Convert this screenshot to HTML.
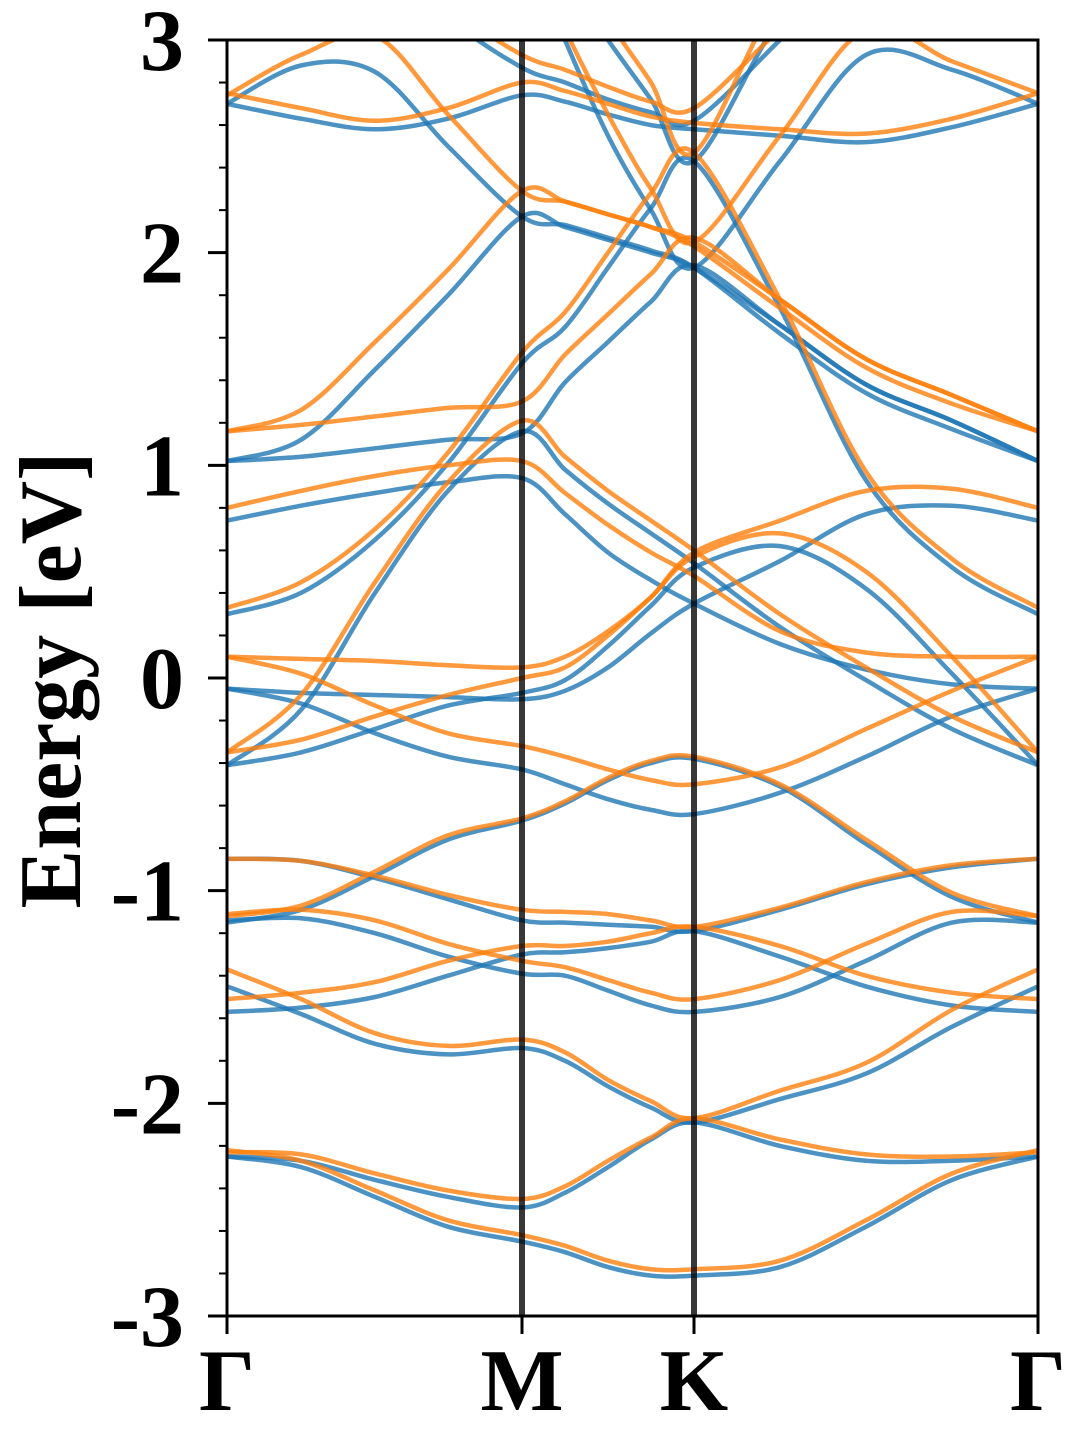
<!DOCTYPE html>
<html><head><meta charset="utf-8"><style>
html,body{margin:0;padding:0;background:#fff;}
svg{display:block;}
text{font-family:"Liberation Serif",serif;font-weight:bold;fill:#000;}
</style></head><body>
<svg id="chart" width="1080" height="1440" viewBox="0 0 1080 1440" xmlns="http://www.w3.org/2000/svg">
<defs><clipPath id="plotclip"><rect x="227" y="40" width="811" height="1276"/></clipPath></defs>
<g id="bands" clip-path="url(#plotclip)"></g>
<g id="axes"></g>
</svg>
<script>
// k-path grid (path length units): Γ=0, M=295, K=467, Γ=811
const kGrid = [0,74,148,221,295,338,381,424,467,553,639,725,811];
const kTicks = [0,295,467,811];
const kLabels = ["Γ","M","K","Γ"];
const eTicks = [-3,-2,-1,0,1,2,3];
const eTickLabels = ["-3","-2","-1","0","1","2","3"];

// spin-up bands (blue), energies in eV at kGrid
const upA = [-2.25,-2.30,-2.44,-2.58,-2.65,-2.70,-2.77,-2.81,-2.81,-2.77,-2.58,-2.36,-2.25];
const upB = [-2.25,-2.27,-2.36,-2.44,-2.49,-2.42,-2.30,-2.17,-2.09,-2.20,-2.27,-2.27,-2.25];
const upC = [-1.45,-1.58,-1.72,-1.77,-1.74,-1.80,-1.92,-2.02,-2.09,-1.98,-1.86,-1.64,-1.45];
const upD = [-1.57,-1.55,-1.50,-1.40,-1.30,-1.29,-1.27,-1.24,-1.19,-1.31,-1.45,-1.54,-1.57];
const upE = [-1.14,-1.13,-1.20,-1.31,-1.39,-1.40,-1.47,-1.54,-1.57,-1.50,-1.33,-1.15,-1.15];
const upF = [-1.15,-1.09,-0.93,-0.76,-0.67,-0.59,-0.48,-0.40,-0.38,-0.51,-0.78,-1.03,-1.15];
const upG = [-0.85,-0.86,-0.94,-1.04,-1.14,-1.15,-1.16,-1.17,-1.19,-1.09,-0.97,-0.89,-0.85];
const upH = [-0.05,-0.12,-0.26,-0.37,-0.43,-0.50,-0.57,-0.62,-0.64,-0.54,-0.37,-0.18,-0.05];
const upI = [-0.41,-0.35,-0.24,-0.13,-0.07,-0.01,0.15,0.34,0.52,0.62,0.42,0.02,-0.41];
const upJ = [-0.05,-0.07,-0.08,-0.09,-0.10,-0.06,0.05,0.21,0.35,0.55,0.77,0.81,0.74];
const upK = [0.74,0.81,0.87,0.92,0.94,0.77,0.59,0.46,0.35,0.16,0.04,-0.03,-0.05];
const upL = [-0.41,-0.15,0.40,0.88,1.16,0.98,0.82,0.68,0.54,0.24,-0.01,-0.24,-0.41];
const upN = [0.30,0.40,0.65,1.01,1.48,1.65,1.93,2.21,2.43,1.74,0.93,0.52,0.30];
const upO = [1.02,1.12,1.45,1.80,2.17,2.12,2.06,2.00,1.93,1.66,1.38,1.21,1.02];
const upP = [1.02,1.04,1.08,1.12,1.15,1.39,1.58,1.77,1.94,1.66,1.38,1.21,1.02];
const upQ = [2.70,2.88,2.85,2.50,2.17,2.13,2.07,2.01,1.93,1.62,1.34,1.17,1.02];
const upR = [2.70,2.63,2.58,2.63,2.74,2.71,2.65,2.60,2.58,2.55,2.52,2.59,2.70];
const upS = [3.4,3.4,3.4,3.1,2.87,2.80,2.72,2.66,2.62,3.0,3.4,3.4,3.4];
const upV = [3.5,3.5,3.5,3.5,3.5,3.0,2.55,2.20,1.93,2.43,2.93,2.86,2.70];
const upW = [3.5,3.5,3.5,3.5,3.5,3.3,3.0,2.72,2.43,3.1,3.5,3.5,3.5];

// spin-down bands (orange)
const dnA = [-2.22,-2.27,-2.41,-2.55,-2.62,-2.67,-2.74,-2.78,-2.78,-2.74,-2.55,-2.33,-2.22];
const dnB = [-2.23,-2.24,-2.33,-2.41,-2.45,-2.39,-2.27,-2.16,-2.07,-2.17,-2.24,-2.25,-2.23];
const dnC = [-1.37,-1.51,-1.67,-1.73,-1.70,-1.76,-1.89,-1.99,-2.07,-1.94,-1.81,-1.56,-1.37];
const dnD = [-1.51,-1.48,-1.43,-1.33,-1.26,-1.26,-1.24,-1.20,-1.17,-1.26,-1.40,-1.48,-1.51];
const dnE = [-1.11,-1.09,-1.14,-1.25,-1.33,-1.36,-1.42,-1.48,-1.51,-1.42,-1.25,-1.10,-1.12];
const dnF = [-1.12,-1.07,-0.91,-0.74,-0.66,-0.58,-0.47,-0.39,-0.37,-0.50,-0.76,-1.01,-1.12];
const dnG = [-0.85,-0.86,-0.93,-1.02,-1.09,-1.10,-1.11,-1.14,-1.17,-1.08,-0.96,-0.88,-0.85];
const dnH = [0.10,0.02,-0.13,-0.26,-0.32,-0.37,-0.43,-0.48,-0.50,-0.42,-0.24,-0.06,0.10];
const dnI = [-0.35,-0.29,-0.18,-0.08,0.00,0.05,0.20,0.38,0.57,0.68,0.50,0.10,-0.35];
const dnJ = [0.10,0.09,0.08,0.06,0.05,0.10,0.22,0.38,0.59,0.74,0.88,0.89,0.80];
const dnK = [0.80,0.88,0.95,1.00,1.02,0.87,0.72,0.59,0.48,0.22,0.12,0.10,0.10];
const dnL = [-0.35,-0.08,0.45,0.92,1.21,1.04,0.88,0.74,0.60,0.30,0.05,-0.18,-0.35];
const dnN = [0.33,0.45,0.70,1.06,1.53,1.72,2.00,2.28,2.47,1.78,0.97,0.56,0.33];
const dnO = [1.16,1.26,1.58,1.92,2.29,2.24,2.18,2.12,2.05,1.78,1.50,1.33,1.16];
const dnP = [1.16,1.19,1.23,1.27,1.30,1.52,1.71,1.90,2.07,1.78,1.50,1.33,1.16];
const dnQ = [2.74,2.93,3.02,2.65,2.29,2.24,2.18,2.12,2.03,1.74,1.46,1.29,1.16];
const dnR = [2.75,2.68,2.62,2.68,2.80,2.76,2.70,2.64,2.61,2.58,2.56,2.63,2.75];
const dnS = [3.4,3.4,3.4,3.15,2.93,2.86,2.78,2.71,2.68,3.05,3.4,3.4,3.4];
const dnV = [3.5,3.5,3.5,3.5,3.5,3.05,2.65,2.30,2.05,2.55,3.05,2.90,2.75];
const dnW = [3.5,3.5,3.5,3.5,3.5,3.5,3.1,2.80,2.47,3.2,3.5,3.5,3.5];

const upBands = [upA,upB,upC,upD,upE,upF,upG,upH,upI,upJ,upK,upL,upN,upO,upP,upQ,upR,upS,upV,upW];
const dnBands = [dnA,dnB,dnC,dnD,dnE,dnF,dnG,dnH,dnI,dnJ,dnK,dnL,dnN,dnO,dnP,dnQ,dnR,dnS,dnV,dnW];

const X0=227,X1=1038,Y0=40,Y1=1316,EMIN=-3,EMAX=3;
const kMax = kTicks[kTicks.length-1];
function xScale(k){return X0+(k/kMax)*(X1-X0);}
function yScale(e){return Y1-(e-EMIN)/(EMAX-EMIN)*(Y1-Y0);}
const NS="http://www.w3.org/2000/svg";

function pathFor(vals){
  const p = kGrid.map((k,i)=>[xScale(k),yScale(vals[i])]);
  let d="M"+p[0][0].toFixed(1)+","+p[0][1].toFixed(1);
  for(let i=0;i<p.length-1;i++){
    const p0=p[i-1]||p[i], p1=p[i], p2=p[i+1], p3=p[i+2]||p[i+1];
    const c1x=p1[0]+(p2[0]-p0[0])/6, c1y=p1[1]+(p2[1]-p0[1])/6;
    const c2x=p2[0]-(p3[0]-p1[0])/6, c2y=p2[1]-(p3[1]-p1[1])/6;
    d+=" C"+c1x.toFixed(1)+","+c1y.toFixed(1)+" "+c2x.toFixed(1)+","+c2y.toFixed(1)+" "+p2[0].toFixed(1)+","+p2[1].toFixed(1);
  }
  return d;
}
const gB=document.getElementById('bands');
upBands.forEach((b,i)=>{
  const el=document.createElementNS(NS,'path');
  el.setAttribute('d',pathFor(b));
  el.setAttribute('fill','none');el.setAttribute('stroke','#1f77b4');
  el.setAttribute('stroke-opacity','0.8');el.setAttribute('stroke-width','4.5');
  
  
  gB.appendChild(el);
});
dnBands.forEach((b,i)=>{
  const el=document.createElementNS(NS,'path');
  el.setAttribute('d',pathFor(b));
  el.setAttribute('fill','none');el.setAttribute('stroke','#ff7f0e');
  el.setAttribute('stroke-opacity','0.8');el.setAttribute('stroke-width','4.5');
  
  
  gB.appendChild(el);
});
const gA=document.getElementById('axes');
kTicks.slice(1,-1).forEach(k=>{
  const l=document.createElementNS(NS,'line');
  l.setAttribute('x1',xScale(k));l.setAttribute('x2',xScale(k));
  l.setAttribute('y1',Y0);l.setAttribute('y2',Y1);
  l.setAttribute('stroke','#000');l.setAttribute('stroke-opacity','0.78');l.setAttribute('stroke-width','6');
  
  
  gA.appendChild(l);
});
const fr=document.createElementNS(NS,'rect');
fr.setAttribute('x',X0);fr.setAttribute('y',Y0);fr.setAttribute('width',X1-X0);fr.setAttribute('height',Y1-Y0);
fr.setAttribute('fill','none');fr.setAttribute('stroke','#000');fr.setAttribute('stroke-width','3');


gA.appendChild(fr);
for(let e=-2.8;e<3;e+=0.2){
  if(Math.abs(e-Math.round(e))<0.01) continue;
  const t=document.createElementNS(NS,'line');
  t.setAttribute('x1',X0-8);t.setAttribute('x2',X0);t.setAttribute('y1',yScale(e));t.setAttribute('y2',yScale(e));
  t.setAttribute('stroke','#000');t.setAttribute('stroke-width','2');
  
  
  gA.appendChild(t);
}
eTicks.forEach((e,i)=>{
  const t=document.createElementNS(NS,'line');
  t.setAttribute('x1',X0-19);t.setAttribute('x2',X0);t.setAttribute('y1',yScale(e));t.setAttribute('y2',yScale(e));
  t.setAttribute('stroke','#000');t.setAttribute('stroke-width','3');
  
  
  gA.appendChild(t);
  const tx=document.createElementNS(NS,'text');
  tx.setAttribute('x',184);tx.setAttribute('y',yScale(e)+30);
  tx.setAttribute('text-anchor','end');tx.setAttribute('font-size','88');
  tx.textContent=eTickLabels[i];
  
  
  gA.appendChild(tx);
});
kTicks.forEach((k,i)=>{
  const t=document.createElementNS(NS,'line');
  t.setAttribute('x1',xScale(k));t.setAttribute('x2',xScale(k));t.setAttribute('y1',Y1);t.setAttribute('y2',Y1+18);
  t.setAttribute('stroke','#000');t.setAttribute('stroke-width','3');
  
  
  gA.appendChild(t);
  const tx=document.createElementNS(NS,'text');
  tx.setAttribute('x',xScale(k));tx.setAttribute('y',1410);
  tx.setAttribute('text-anchor','middle');tx.setAttribute('font-size','88');
  tx.textContent=kLabels[i];
  
  
  gA.appendChild(tx);
});
const yl=document.createElementNS(NS,'text');
yl.setAttribute('transform','translate(80,680) rotate(-90)');
yl.setAttribute('text-anchor','middle');yl.setAttribute('font-size','88');
yl.textContent='Energy [eV]';


gA.appendChild(yl);
</script>
</body></html>
